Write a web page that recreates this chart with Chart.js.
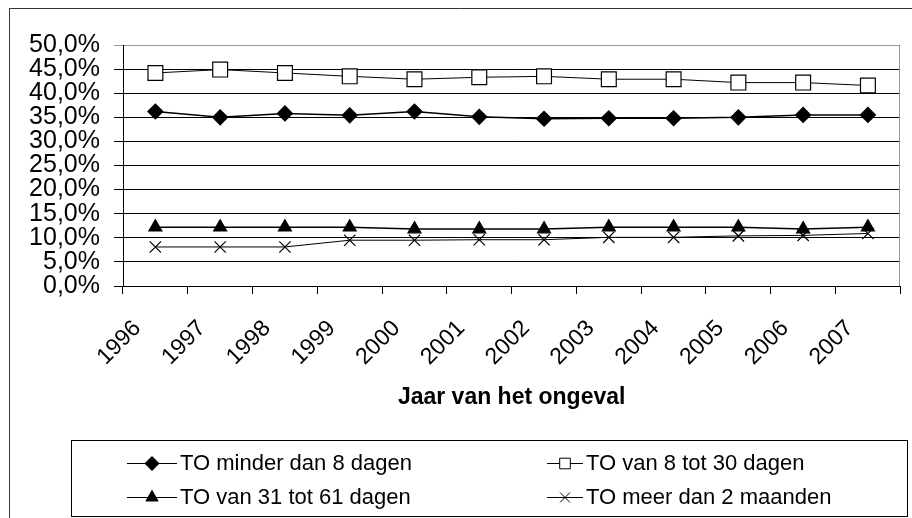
<!DOCTYPE html>
<html>
<head>
<meta charset="utf-8">
<script src="https://cdn.jsdelivr.net/npm/chart.js@4.4.1/dist/chart.umd.min.js"></script>
<style>
html,body{margin:0;padding:0;background:#fff;}
#wrap{width:912px;height:518px;position:relative;overflow:hidden;}
canvas{display:block;}
</style>
</head>
<body>
<div id="wrap"><canvas id="c" width="912" height="518"></canvas></div>
<script>
// ---- data ----
const years = ['1996','1997','1998','1999','2000','2001','2002','2003','2004','2005','2006','2007'];
const toMinder8Dagen   = [36.2, 35.0, 35.8, 35.4, 36.2, 35.1, 34.7, 34.8, 34.8, 35.0, 35.5, 35.5];
const toVan8Tot30      = [44.2, 44.9, 44.2, 43.5, 42.9, 43.3, 43.5, 42.9, 42.9, 42.2, 42.2, 41.6];
const toVan31Tot61     = [12.2, 12.2, 12.2, 12.2, 11.8, 11.8, 11.8, 12.2, 12.2, 12.2, 11.8, 12.2];
const toMeerDan2Maand  = [8.1, 8.1, 8.1, 9.5, 9.5, 9.6, 9.6, 10.1, 10.1, 10.4, 10.5, 10.9];
const seriesLabels = ['TO minder dan 8 dagen', 'TO van 8 tot 30 dagen', 'TO van 31 tot 61 dagen', 'TO meer dan 2 maanden'];
const axisTitleX = 'Jaar van het ongeval';
const yMin = 0, yMax = 50, yStep = 5;

const FONT = '"Liberation Sans", Arial, sans-serif';

const frameAndLegend = {
  id: 'frameAndLegend',
  beforeDraw(chart) {
    const ctx = chart.ctx;
    ctx.save();
    ctx.fillStyle = '#fff';
    ctx.fillRect(0, 0, chart.width, chart.height);
    ctx.strokeStyle = '#333';
    ctx.lineWidth = 1;
    ctx.beginPath();
    ctx.moveTo(9.5, chart.height);
    ctx.lineTo(9.5, 8.5);
    ctx.lineTo(chart.width, 8.5);
    ctx.stroke();
    ctx.restore();
  },
  afterDraw(chart) {
    const ctx = chart.ctx;
    const ca = chart.chartArea;
    ctx.save();
    // right plot border (grey)
    ctx.strokeStyle = '#999';
    ctx.lineWidth = 1;
    ctx.beginPath();
    ctx.moveTo(Math.round(ca.right) - 0.5, ca.top);
    ctx.lineTo(Math.round(ca.right) - 0.5, ca.bottom);
    ctx.stroke();
    // legend box
    ctx.strokeStyle = '#000';
    ctx.strokeRect(71.5, 440.5, 836, 76);
    const slots = [
      {x0: 127, x1: 177, tx: 180, y: 463, ty: 470},
      {x0: 547, x1: 583, tx: 586, y: 463, ty: 470},
      {x0: 127, x1: 177, tx: 180, y: 497, ty: 503.5},
      {x0: 547, x1: 583, tx: 586, y: 497, ty: 503.5}
    ];
    chart.data.datasets.forEach((ds, i) => {
      const s = slots[i];
      ctx.strokeStyle = '#000';
      ctx.lineWidth = 1;
      ctx.beginPath();
      ctx.moveTo(s.x0, s.y + 0.5);
      ctx.lineTo(s.x1, s.y + 0.5);
      ctx.stroke();
      ctx.fillStyle = ds.pointBackgroundColor;
      ctx.strokeStyle = '#000';
      ctx.lineWidth = 1;
      Chart.helpers.drawPoint(ctx, {pointStyle: ds.pointStyle, radius: ds.legendRadius, borderWidth: 1, rotation: 0}, (s.x0 + s.x1) / 2, s.y + 0.5);
      ctx.fillStyle = '#000';
      ctx.font = '22px ' + FONT;
      ctx.textBaseline = 'alphabetic';
      ctx.textAlign = 'left';
      ctx.fillText(ds.label, s.tx, s.ty);
    });
    ctx.restore();
  }
};

const datasets = [
  {label: seriesLabels[0], data: toMinder8Dagen, pointStyle: 'rectRot', pointRadius: 7.5, legendRadius: 7,
   pointBackgroundColor: '#000', borderColor: '#000', borderWidth: 1.5},
  {label: seriesLabels[1], data: toVan8Tot30, pointStyle: 'rect', pointRadius: 10.5, legendRadius: 7.5,
   pointBackgroundColor: '#fff', borderColor: '#000', borderWidth: 1},
  {label: seriesLabels[2], data: toVan31Tot61, pointStyle: 'triangle', pointRadius: 7.5, legendRadius: 7,
   pointBackgroundColor: '#000', borderColor: '#000', borderWidth: 1.5},
  {label: seriesLabels[3], data: toMeerDan2Maand, pointStyle: 'crossRot', pointRadius: 8, legendRadius: 7,
   pointBackgroundColor: '#000', borderColor: '#000', borderWidth: 1}
].map(d => Object.assign({
  pointBorderColor: '#000', pointBorderWidth: 1.2, tension: 0, fill: false, pointHoverRadius: d.pointRadius
}, d));

new Chart(document.getElementById('c'), {
  type: 'line',
  data: {labels: years, datasets},
  plugins: [frameAndLegend],
  options: {
    responsive: false,
    animation: false,
    devicePixelRatio: 1,
    layout: {padding: {top: 45, left: 0, right: 1, bottom: 107}},
    plugins: {legend: {display: false}, tooltip: {enabled: false}},
    scales: {
      x: {
        type: 'category',
        offset: true,
        grid: {offset: true, drawOnChartArea: false, drawTicks: true, tickLength: 8, color: '#000', lineWidth: 1},
        border: {display: true, color: '#000', width: 1},
        ticks: {minRotation: 45, maxRotation: 45, autoSkip: false, color: '#000', padding: 21, labelOffset: -18,
                font: {family: FONT, size: 23}},
        title: {display: true, text: axisTitleX, color: '#000', padding: {top: 0, bottom: 0},
                font: {family: FONT, size: 23, weight: 'bold'}},
        afterFit(scale) { scale.height = 125; }
      },
      y: {
        min: yMin, max: yMax,
        grid: {color: c => (c.tick && c.tick.value === yMax) ? '#999' : '#000', lineWidth: 1, tickLength: 9},
        border: {display: true, color: '#000', width: 1},
        ticks: {stepSize: yStep, autoSkip: false, color: '#000', padding: 14,
                font: {family: FONT, size: 25, lineHeight: 1},
                callback: v => v.toFixed(1).replace('.', ',') + '%'},
        afterFit(scale) { scale.width = 123; }
      }
    }
  }
});
</script>
</body>
</html>
